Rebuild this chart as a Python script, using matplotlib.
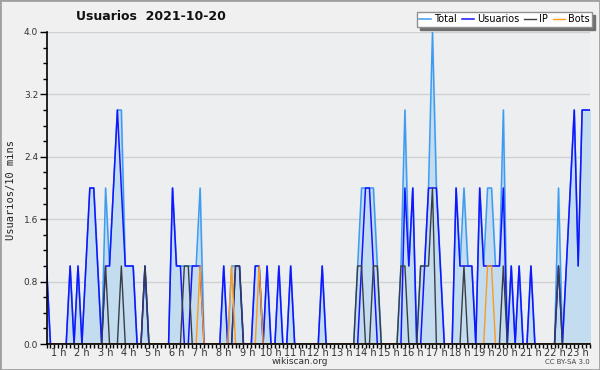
import matplotlib
matplotlib.use("Agg")
import matplotlib.pyplot as plt
from matplotlib.patches import Rectangle
from matplotlib.ticker import MultipleLocator

# 10-minute slots of 2021-10-20
total = [1, 0, 0, 0, 0, 0, 1, 0, 1, 0,
         1, 2, 2, 1, 0, 2, 1, 2, 3, 3,
         1, 1, 1, 0, 0, 1, 0, 0, 0, 0,
         0, 0, 2, 1, 1, 1, 1, 1, 1, 2,
         0, 0, 0, 0, 0, 1, 0, 1, 1, 1,
         0, 0, 0, 1, 1, 0, 1, 0, 0, 1,
         0, 0, 1, 0, 0, 0, 0, 0, 0, 0,
         1, 0, 0, 0, 0, 0, 0, 0, 0, 1,
         2, 2, 2, 2, 1, 0, 0, 0, 0, 0,
         1, 3, 1, 2, 0, 1, 1, 2, 4, 2,
         1, 0, 0, 0, 2, 1, 2, 1, 1, 0,
         2, 1, 2, 2, 1, 1, 3, 0, 1, 0,
         1, 0, 0, 1, 0, 0, 0, 0, 0, 0,
         2, 0, 1, 2, 3, 1, 3, 3, 3]
usuarios = [1, 0, 0, 0, 0, 0, 1, 0, 1, 0,
            1, 2, 2, 1, 0, 1, 1, 2, 3, 2,
            1, 1, 1, 0, 0, 1, 0, 0, 0, 0,
            0, 0, 2, 1, 1, 0, 0, 1, 1, 1,
            0, 0, 0, 0, 0, 1, 0, 0, 1, 1,
            0, 0, 0, 1, 1, 0, 1, 0, 0, 1,
            0, 0, 1, 0, 0, 0, 0, 0, 0, 0,
            1, 0, 0, 0, 0, 0, 0, 0, 0, 0,
            1, 2, 2, 1, 0, 0, 0, 0, 0, 0,
            0, 2, 1, 2, 0, 0, 1, 2, 2, 2,
            1, 0, 0, 0, 2, 1, 1, 1, 1, 0,
            2, 1, 1, 1, 1, 1, 2, 0, 1, 0,
            1, 0, 0, 1, 0, 0, 0, 0, 0, 0,
            1, 0, 1, 2, 3, 1, 3, 3, 3]
ip = [0, 0, 0, 0, 0, 0, 0, 0, 0, 0,
      0, 0, 0, 0, 0, 1, 0, 0, 0, 1,
      0, 0, 0, 0, 0, 1, 0, 0, 0, 0,
      0, 0, 0, 0, 0, 1, 1, 0, 0, 0,
      0, 0, 0, 0, 0, 0, 0, 0, 1, 1,
      0, 0, 0, 0, 0, 0, 0, 0, 0, 0,
      0, 0, 0, 0, 0, 0, 0, 0, 0, 0,
      0, 0, 0, 0, 0, 0, 0, 0, 0, 1,
      1, 0, 0, 1, 1, 0, 0, 0, 0, 0,
      1, 1, 0, 0, 0, 1, 1, 1, 2, 0,
      0, 0, 0, 0, 0, 0, 1, 0, 0, 0,
      0, 0, 0, 0, 0, 0, 1, 0, 0, 0,
      0, 0, 0, 0, 0, 0, 0, 0, 0, 0,
      1, 0, 0, 0, 0, 0, 0, 0, 0]
bots = [0, 0, 0, 0, 0, 0, 0, 0, 0, 0,
        0, 0, 0, 0, 0, 0, 0, 0, 0, 0,
        0, 0, 0, 0, 0, 0, 0, 0, 0, 0,
        0, 0, 0, 0, 0, 0, 0, 0, 0, 1,
        0, 0, 0, 0, 0, 0, 0, 1, 0, 0,
        0, 0, 0, 0, 1, 0, 0, 0, 0, 0,
        0, 0, 0, 0, 0, 0, 0, 0, 0, 0,
        0, 0, 0, 0, 0, 0, 0, 0, 0, 0,
        0, 0, 0, 0, 0, 0, 0, 0, 0, 0,
        0, 0, 0, 0, 0, 0, 0, 0, 0, 0,
        0, 0, 0, 0, 0, 0, 0, 0, 0, 0,
        0, 0, 1, 1, 0, 0, 0, 0, 0, 0,
        0, 0, 0, 0, 0, 0, 0, 0, 0, 0,
        0, 0, 0, 0, 0, 0, 0, 0, 0]
hours = list(range(1, 24))
hour_labels = [f"{h} h" for h in hours]

W, H = 600, 370
fig = plt.figure(figsize=(W / 100, H / 100), dpi=100, facecolor="#f0f0f0")
fig.patches.append(Rectangle((0, 0), 1, 1, transform=fig.transFigure,
                             fill=False, edgecolor="#a0a0a0", linewidth=2))
ax = fig.add_axes([46.5 / W, 26 / H, 543.5 / W, 312 / H])
ax.set_facecolor("#eceef0")

x = list(range(len(total)))
ax.fill_between(x, total, color="#c4dcf0", zorder=2)
ax.plot(x, total, color="#3d9bf0", lw=1.1, label="Total", zorder=3)
ax.plot(x, usuarios, color="#1414ff", lw=1.1, label="Usuarios", zorder=4)
ax.plot(x, ip, color="#3a3d45", lw=1.0, label="IP", zorder=5)
ax.plot(x, bots, color="#ff9a1a", lw=1.0, label="Bots", zorder=6)

ax.set_xlim(0, len(total) - 1)
ax.set_ylim(0, 4.0)
ax.yaxis.set_major_locator(MultipleLocator(0.8))
ax.yaxis.set_minor_locator(MultipleLocator(0.2))
ax.set_yticklabels([f"{v:.1f}" for v in ax.get_yticks()])
ax.grid(axis="y", color="#d0d0d0", lw=1, zorder=1)
ax.tick_params(axis="y", which="major", length=5, width=1, labelsize=6.5,
               labelcolor="#333333", pad=1)
ax.tick_params(axis="y", which="minor", length=3, width=1)
ax.xaxis.set_major_locator(MultipleLocator(1))
ax.tick_params(axis="x", which="major", length=3, width=1, labelbottom=False)
for s in ("top", "right"):
    ax.spines[s].set_visible(False)
for s in ("left", "bottom"):
    ax.spines[s].set_color("black")
    ax.spines[s].set_linewidth(1.2)
    ax.spines[s].set_zorder(7)

tx = ax.get_xaxis_transform()
for h, lab in zip(hours, hour_labels):
    ax.text(6 * h - 3, -0.012, lab, transform=tx, ha="center", va="top",
            fontsize=7, color="#333333")

fig.text(11 / W, 1 - 190 / H, "Usuarios/10 mins", rotation=90,
         family="DejaVu Sans Mono", fontsize=7.5, color="#222222",
         ha="center", va="center")

fig.text(151 / W, 1 - 17 / H, "Usuarios  2021-10-20", ha="center", va="center",
         fontsize=9, fontweight="bold", color="#111111")
fig.text(300 / W, 1 - 361 / H, "wikiscan.org", ha="center", va="center",
         fontsize=6.5, color="#333333")
fig.text(590 / W, 1 - 362 / H, "CC BY-SA 3.0", ha="right", va="center",
         fontsize=5, color="#444444")

leg = fig.legend(loc="upper right", bbox_to_anchor=(592 / W, 1 - 12 / H),
                 ncol=4, fontsize=7, frameon=True, fancybox=False,
                 shadow={"color": "#707070", "alpha": 1}, edgecolor="#909090",
                 handlelength=1.2, handletextpad=0.35, columnspacing=0.5,
                 borderpad=0.25, borderaxespad=0)
leg.get_frame().set_linewidth(1)

fig.savefig("out.png", dpi=100, facecolor=fig.get_facecolor())
